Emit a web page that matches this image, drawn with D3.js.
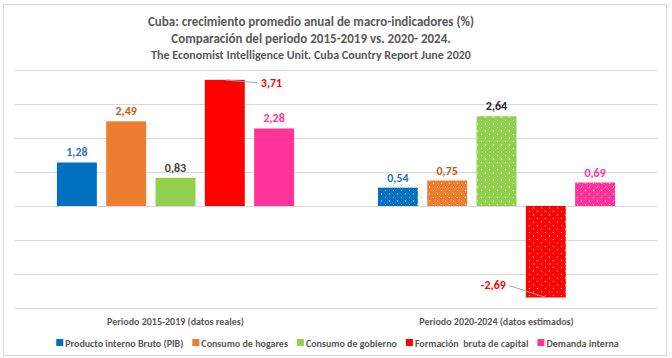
<!DOCTYPE html>
<html>
<head>
<meta charset="utf-8">
<script src="https://cdn.jsdelivr.net/npm/d3@7/dist/d3.min.js"></script>
<style>
  html, body { margin: 0; padding: 0; background: #fff; }
  svg text { font-family: Carlito, Calibri, Lato, "Open Sans", sans-serif; font-weight: bold; }
</style>
</head>
<body>
<svg id="chart" width="672" height="358"></svg>
<script>
// ---- data ----
const titleLines = [
  "Cuba: crecimiento promedio anual de macro-indicadores (%)",
  "Comparación del periodo 2015-2019 vs. 2020- 2024.",
  "The Economist Intelligence Unit. Cuba Country Report June 2020"
];
const periods = ["Periodo 2015-2019 (datos reales)", "Periodo 2020-2024 (datos estimados)"];
const seriesNames = ["Producto interno Bruto (PIB)", "Consumo de hogares", "Consumo de gobierno", "Formación  bruta de capital", "Demanda interna"];
const values2015_2019 = [1.28, 2.49, 0.83, 3.71, 2.28];
const values2020_2024 = [0.54, 0.75, 2.64, -2.69, 0.69];
const yTicks = [-3, -2, -1, 0, 1, 2, 3, 4];

// ---- styles ----
const barColors = ["#0070C0", "#ED7D31", "#92D050", "#FF0000", "#FF3399"];
const labelColors = ["#2E75B6", "#C55A11", "#404040", "#FF0000", "#FF3399"];
const labelColors2 = ["#2E75B6", "#C55A11", "#262626", "#FF0000", "#FF3399"];

const svg = d3.select("#chart");
const plot = { left: 15, right: 657, top: 70, bottom: 308 };
const fmtNum = v => d3.format(".2f")(v).replace(".", ",").replace("\u2212", "-");

// border
svg.append("rect").attr("x", 3.5).attr("y", 4.5).attr("width", 663).attr("height", 351)
  .attr("fill", "#fff").attr("stroke", "#d9d9d9").attr("stroke-width", 1);

// patterns for estimated period (white dots)
const defs = svg.append("defs");
barColors.forEach((c, i) => {
  const p = defs.append("pattern").attr("id", "dots" + i)
    .attr("patternUnits", "userSpaceOnUse").attr("width", 8).attr("height", 7);
  p.append("rect").attr("width", 8).attr("height", 7).attr("fill", c);
  p.append("rect").attr("x", 1).attr("y", 1).attr("width", 1).attr("height", 1).attr("fill", "#fff");
  p.append("rect").attr("x", 5).attr("y", 4.5).attr("width", 1).attr("height", 1).attr("fill", "#fff");
});

// title
const titleSizes = [13, 13, 12];
const titleY = [26, 43, 59];
titleLines.forEach((t, i) => {
  svg.append("text").attr("x", 311).attr("y", titleY[i]).attr("text-anchor", "middle")
    .attr("font-size", titleSizes[i]).attr("fill", "#595959").text(t);
});

// scales
const y = d3.scaleLinear().domain([-3, 4]).range([plot.bottom, plot.top]);
const x0 = d3.scaleBand().domain(periods).range([plot.left, plot.right]).padding(0);
const x1 = d3.scaleBand().domain(seriesNames).range([0, x0.bandwidth()]).paddingInner(0.19).paddingOuter(0.85);

// gridlines
svg.append("g").selectAll("line").data(yTicks).join("line")
  .attr("x1", plot.left).attr("x2", plot.right)
  .attr("y1", d => Math.round(y(d)) + 0.5).attr("y2", d => Math.round(y(d)) + 0.5)
  .attr("stroke", "#d9d9d9").attr("stroke-width", 1);

// bars
const datasets = [values2015_2019, values2020_2024];
datasets.forEach((vals, gi) => {
  const g = svg.append("g").attr("transform", `translate(${x0(periods[gi])},0)`);
  const data = vals.map((v, i) => ({ v, name: seriesNames[i], i }));
  g.selectAll("rect").data(data).join("rect")
    .attr("x", d => x1(d.name))
    .attr("width", x1.bandwidth())
    .attr("y", d => y(Math.max(0, d.v)))
    .attr("height", d => Math.abs(y(d.v) - y(0)))
    .attr("fill", d => gi === 0 ? barColors[d.i] : `url(#dots${d.i})`);

  // labels
  data.forEach(d => {
    const cx = x1(d.name) + x1.bandwidth() / 2;
    const txt = fmtNum(d.v);
    const col = gi === 0 ? labelColors[d.i] : labelColors2[d.i];
    const isLeader = (d.i === 3);
    if (isLeader && d.v > 0) {
      const ty = y(d.v);
      g.append("line").attr("x1", cx).attr("y1", ty).attr("x2", cx + 33).attr("y2", ty + 3)
        .attr("stroke", "#a6a6a6").attr("stroke-width", 1);
      g.append("text").attr("x", cx + 36).attr("y", ty + 7).attr("font-size", 12)
        .attr("fill", col).text(txt);
    } else if (isLeader && d.v < 0) {
      const by = y(d.v);
      g.append("line").attr("x1", cx).attr("y1", by).attr("x2", cx - 37).attr("y2", by - 12)
        .attr("stroke", "#a6a6a6").attr("stroke-width", 1);
      g.append("text").attr("x", cx - 40).attr("y", by - 8).attr("text-anchor", "end").attr("font-size", 12)
        .attr("fill", col).text(txt);
    } else {
      g.append("text").attr("x", cx).attr("y", y(d.v) - 6).attr("text-anchor", "middle")
        .attr("font-size", 12).attr("fill", col).text(txt);
    }
  });
});

// category axis labels
svg.append("g").selectAll("text").data(periods).join("text")
  .attr("x", d => x0(d) + x0.bandwidth() / 2).attr("y", 325)
  .attr("text-anchor", "middle").attr("font-size", 10).attr("fill", "#595959")
  .text(d => d);

// legend
const leg = svg.append("g");
let cursor = 0;
seriesNames.forEach((n, i) => {
  const it = leg.append("g");
  it.append("rect").attr("x", 0).attr("y", -4).attr("width", 7).attr("height", 7).attr("fill", barColors[i]);
  const t = it.append("text").attr("x", 9).attr("y", 3.5).attr("font-size", 10).attr("fill", "#595959")
    .style("white-space", "pre").text(n);
  const w = 9 + t.node().getComputedTextLength();
  it.attr("transform", `translate(${cursor},0)`);
  cursor += w + 9;
});
const legW = cursor - 9;
leg.attr("transform", `translate(${(47 + 628) / 2 - legW / 2},343)`);
</script>
</body>
</html>
